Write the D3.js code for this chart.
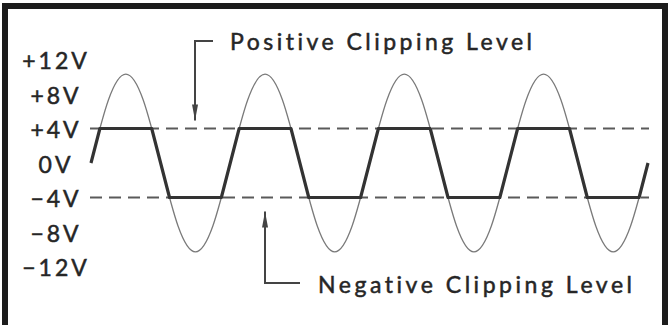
<!DOCTYPE html>
<html>
<head>
<meta charset="utf-8">
<script src="https://cdn.jsdelivr.net/npm/d3@7"></script>
<style>
  html, body { margin: 0; padding: 0; background: #fff; }
  svg { display: block; }
  text { font-family: Lato, "Noto Sans", sans-serif; fill: #262626;
         font-variant-ligatures: none; font-feature-settings: "liga" 0, "clig" 0; }
</style>
</head>
<body>
<svg id="chart" width="671" height="325"></svg>
<script>
// ---- data (time in cycles, voltage in volts) ----
const yTickValues = [12, 8, 4, 0, -4, -8, -12];
const yTickLabels = ["+12V", "+8V", "+4V", "0V", "\u22124V", "\u22128V", "\u221212V"];
const clipLevels = [4, -4];

// input sine wave: points read at every 1/8 cycle
const sineT = [0, 0.125, 0.25, 0.375, 0.5, 0.625, 0.75, 0.875,
               1, 1.125, 1.25, 1.375, 1.5, 1.625, 1.75, 1.875,
               2, 2.125, 2.25, 2.375, 2.5, 2.625, 2.75, 2.875,
               3, 3.125, 3.25, 3.375, 3.5, 3.625, 3.75, 3.875, 4];
const sineV = [0, 7.3, 10.3, 7.3, 0, -7.3, -10.3, -7.3,
               0, 7.3, 10.3, 7.3, 0, -7.3, -10.3, -7.3,
               0, 7.3, 10.3, 7.3, 0, -7.3, -10.3, -7.3,
               0, 7.3, 10.3, 7.3, 0, -7.3, -10.3, -7.3, 0];

// clipped output waveform: corner points
const clipT = [0, 0.064, 0.436, 0.564, 0.936,
               1.064, 1.436, 1.564, 1.936,
               2.064, 2.436, 2.564, 2.936,
               3.064, 3.436, 3.564, 3.936, 4];
const clipV = [0, 4, 4, -4, -4,
               4, 4, -4, -4,
               4, 4, -4, -4,
               4, 4, -4, -4, 0];

const annotations = ["Positive Clipping Level", "Negative Clipping Level"];

// ---- drawing ----
const svg = d3.select("#chart");

const x = d3.scaleLinear().domain([0, 4]).range([91, 648]);
const y = d3.scaleLinear().domain([-12, 12]).range([266.5, 59.5]);

// frame
const frame = svg.append("g").attr("fill", "#1c1c1c");
frame.append("rect").attr("x", 2).attr("y", 3).attr("width", 6).attr("height", 322);
frame.append("rect").attr("x", 2).attr("y", 3).attr("width", 666).attr("height", 6);
frame.append("rect").attr("x", 662).attr("y", 3).attr("width", 6).attr("height", 322);

// dashed clipping levels
svg.append("g").selectAll("line").data(clipLevels).join("line")
  .attr("x1", 90).attr("x2", 649)
  .attr("y1", d => y(d)).attr("y2", d => y(d))
  .attr("stroke", "#5a5a5a").attr("stroke-width", 2)
  .attr("stroke-dasharray", "12,7");

// thin sine
const sineData = sineT.map((t, i) => [t, sineV[i]]);
svg.append("path")
  .datum(sineData)
  .attr("fill", "none").attr("stroke", "#7a7a7a").attr("stroke-width", 1.3)
  .attr("d", d3.line().x(d => x(d[0])).y(d => y(d[1])).curve(d3.curveNatural));

// thick clipped
const clipData = clipT.map((t, i) => [t, clipV[i]]);
svg.append("path")
  .datum(clipData)
  .attr("fill", "none").attr("stroke", "#333").attr("stroke-width", 3.2)
  .attr("stroke-linejoin", "round")
  .attr("d", d3.line().x(d => x(d[0])).y(d => y(d[1])));

// y axis labels
const yAxis = d3.axisLeft(y).tickValues(yTickValues)
  .tickFormat((d, i) => yTickLabels[i]).tickSize(0);
const ag = svg.append("g").attr("transform", "translate(56,0)").call(yAxis);
ag.select(".domain").remove();
ag.selectAll("text")
  .attr("x", 0).attr("dy", null).attr("y", 0)
  .attr("dominant-baseline", "central")
  .attr("text-anchor", "middle")
  .attr("font-family", "Lato, 'Noto Sans', sans-serif")
  .attr("font-size", 23)
  .attr("letter-spacing", 3)
  .attr("fill", "#262626")
  .attr("stroke", "#262626").attr("stroke-width", 0.5);

// annotations
const arrowColor = "#444";

// positive arrow: bracket from text down to +4V level
svg.append("path")
  .attr("d", `M213,41 L195,41 L195,${y(4) - 8}`)
  .attr("fill", "none").attr("stroke", arrowColor).attr("stroke-width", 2);
svg.append("path")
  .attr("d", `M192,${y(4) - 24} L195,${y(4) - 8} L198,${y(4) - 24} Z`)
  .attr("fill", arrowColor);

// negative arrow: from bracket up to -4V level
svg.append("path")
  .attr("d", `M300,283 L265,283 L265,${y(-4) + 14}`)
  .attr("fill", "none").attr("stroke", arrowColor).attr("stroke-width", 2);
svg.append("path")
  .attr("d", `M262,${y(-4) + 30} L265,${y(-4) + 14} L268,${y(-4) + 30} Z`)
  .attr("fill", arrowColor);

svg.append("text").attr("x", 230).attr("y", 49.5)
  .attr("font-size", 23)
  .attr("stroke", "#262626").attr("stroke-width", 0.5)
  .attr("textLength", 302).attr("lengthAdjust", "spacing")
  .text(annotations[0]);
svg.append("text").attr("x", 318).attr("y", 292.5)
  .attr("font-size", 23)
  .attr("stroke", "#262626").attr("stroke-width", 0.5)
  .attr("textLength", 314).attr("lengthAdjust", "spacing")
  .text(annotations[1]);
</script>
</body>
</html>
